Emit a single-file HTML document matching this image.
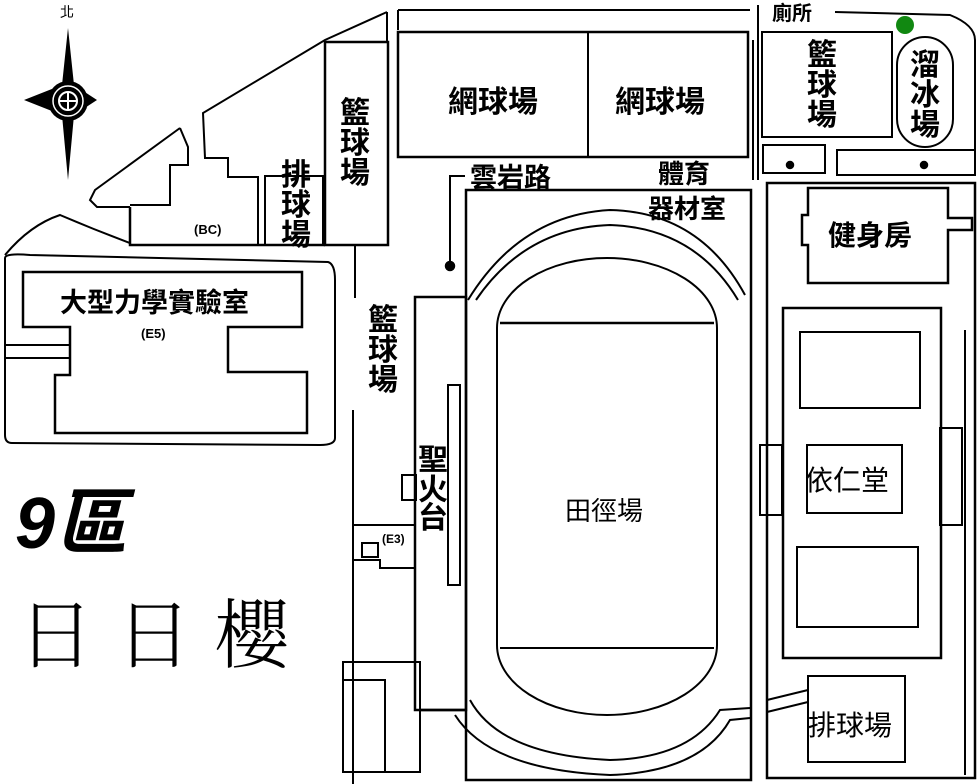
<!DOCTYPE html>
<html><head><meta charset="utf-8"><style>
html,body{margin:0;padding:0;background:#fff;}
svg{display:block;}
text{font-family:"Liberation Sans","Noto Sans CJK TC","WenQuanYi Zen Hei",sans-serif;fill:#000;font-weight:bold;}
text.n{font-weight:normal;}
text.t{font-weight:300;font-family:"Noto Serif CJK SC","Liberation Serif",serif;}
</style></head><body>
<svg width="980" height="784" viewBox="0 0 980 784" xmlns="http://www.w3.org/2000/svg">
<rect width="980" height="784" fill="#fff"/>
<g fill="none" stroke="#000" stroke-width="2.5">
<polygon points="68,28 74,85 97,100 74,115 68,180 62,115 24,100 62,85" fill="#000" stroke="none"/>
<circle cx="68" cy="101" r="20" fill="#000" stroke="none"/>
<circle cx="68" cy="101" r="15" stroke="#fff" stroke-width="1.5"/>
<circle cx="68" cy="101" r="9" stroke="#fff" stroke-width="2"/>
<line x1="59" y1="101" x2="77" y2="101" stroke="#fff" stroke-width="2"/>
<line x1="68" y1="92" x2="68" y2="110" stroke="#fff" stroke-width="2"/>
<polyline points="387,12 325,40 203,113 205,158 228,158 228,177 258,177 258,245" stroke-width="2"/>
<polyline points="180,128 188,147 188,165 170,165 170,205 130,205" stroke-width="2"/>
<polyline points="180,128 95,190 90,200 97,207 130,207" stroke-width="2"/>
<polyline points="130,207 130,245 325,245" stroke-width="2.5"/>
<rect x="265" y="176" width="58" height="69" stroke-width="2"/>
<rect x="325" y="42" width="63" height="203"/>
<polyline points="387,12 387,42" stroke-width="2"/>
<line x1="355" y1="245" x2="355" y2="298" stroke-width="2"/>
<path d="M5,258 Q5,253 30,255 L328,262 Q335,264 335,280 L335,438 Q335,445 320,445 L12,443 Q5,443 5,435 Z" stroke-width="2"/>
<polygon points="23,272 302,272 302,327 228,327 228,372 307,372 307,433 55,433 55,375 70,375 70,327 23,327"/>
<line x1="5" y1="345" x2="70" y2="345" stroke-width="2"/>
<line x1="5" y1="358" x2="70" y2="358" stroke-width="2"/>
<path d="M5,255 Q30,225 60,215 Q95,230 130,243" stroke-width="2"/>
<line x1="353" y1="410" x2="353" y2="784" stroke-width="2"/>
<rect x="415" y="297" width="51" height="413"/>
<rect x="448" y="385" width="12" height="200" stroke-width="2"/>
<rect x="402" y="475" width="14" height="25" stroke-width="2"/>
<rect x="362" y="543" width="16" height="14" stroke-width="2"/>
<polyline points="353,525 415,525" stroke-width="2"/>
<polyline points="353,560 380,560 380,568 415,568" stroke-width="2"/>
<rect x="343" y="662" width="77" height="110" stroke-width="2"/>
<rect x="343" y="680" width="42" height="92" stroke-width="2"/>
<line x1="420" y1="710" x2="466" y2="710"/>
<polyline points="450,265 450,176 465,176" stroke-width="2"/>
<circle cx="450" cy="266" r="4" fill="#000"/>
<line x1="398" y1="10" x2="750" y2="10" stroke-width="2"/>
<line x1="398" y1="10" x2="398" y2="30" stroke-width="2"/>
<rect x="398" y="32" width="350" height="125"/>
<line x1="588" y1="32" x2="588" y2="157" stroke-width="2"/>
<rect x="466" y="190" width="285" height="590"/>
<rect x="497" y="258" width="220" height="457" rx="110" ry="70" stroke-width="2"/>
<line x1="500" y1="323" x2="714" y2="323"/>
<line x1="500" y1="648" x2="714" y2="648" stroke-width="2"/>
<path d="M468,300 Q520,215 610,210 Q700,212 745,295" stroke-width="2"/>
<path d="M476,300 Q525,228 610,225 Q695,228 738,300" stroke-width="2"/>
<path d="M470,700 Q500,755 610,760 Q690,758 720,710 L750,708" stroke-width="2"/>
<path d="M455,715 Q490,770 610,775 Q700,772 730,720 L750,718" stroke-width="2"/>
<line x1="753" y1="40" x2="753" y2="180" stroke-width="2"/>
<line x1="758" y1="5" x2="758" y2="180" stroke-width="2"/>
<rect x="762" y="32" width="130" height="105" stroke-width="2"/>
<rect x="897" y="37" width="56" height="110" rx="28" ry="28" stroke-width="2"/>
<path d="M835,12 L950,15 Q975,25 975,40 L975,160" stroke-width="2"/>
<rect x="763" y="145" width="62" height="28" stroke-width="2"/>
<rect x="837" y="150" width="138" height="25" stroke-width="2"/>
<circle cx="790" cy="165" r="3" fill="#000"/>
<circle cx="924" cy="165" r="3" fill="#000"/>
<rect x="767" y="183" width="208" height="595"/>
<polygon points="808,188 948,188 948,218 972,218 972,230 948,230 948,283 808,283 808,245 802,245 802,215 808,215" stroke-width="2.5"/>
<rect x="783" y="308" width="158" height="350" stroke-width="2.5"/>
<rect x="800" y="332" width="120" height="76" stroke-width="2"/>
<rect x="807" y="445" width="95" height="68" stroke-width="2"/>
<rect x="797" y="547" width="121" height="80" stroke-width="2"/>
<rect x="808" y="676" width="97" height="86" stroke-width="2"/>
<rect x="760" y="445" width="22" height="70" stroke-width="2"/>
<rect x="940" y="428" width="22" height="97" stroke-width="2"/>
<line x1="965" y1="330" x2="965" y2="775" stroke-width="2"/>
<path d="M767,700 L808,690 M767,712 L808,702" stroke-width="2"/>
</g>
<circle cx="905" cy="25" r="9" fill="#118811"/>
<text x="60" y="17" font-size="14" class="n">北</text>
<text x="60" y="312" font-size="27">大型力學實驗室</text>
<text x="141" y="338" font-size="13">(E5)</text>
<text x="194" y="234" font-size="13">(BC)</text>
<text x="382" y="543" font-size="12">(E3)</text>
<g font-size="30">
<text x="340" y="123">籃</text><text x="340" y="153">球</text><text x="340" y="183">場</text>
<text x="281" y="185">排</text><text x="281" y="215">球</text><text x="281" y="245">場</text>
<text x="368" y="330">籃</text><text x="368" y="360">球</text><text x="368" y="390">場</text>
<text x="418" y="470">聖</text><text x="418" y="500">火</text><text x="418" y="528">台</text>
<text x="807" y="65">籃</text><text x="807" y="95">球</text><text x="807" y="125">場</text>
<text x="910" y="75">溜</text><text x="910" y="105">冰</text><text x="910" y="135">場</text>
</g>
<text x="448" y="112" font-size="30">網球場</text>
<text x="615" y="112" font-size="30">網球場</text>
<text x="470" y="187" font-size="27">雲岩路</text>
<text x="658" y="183" font-size="26">體育</text>
<text x="648" y="218" font-size="26">器材室</text>
<text x="772" y="20" font-size="20">廁所</text>
<text x="828" y="245" font-size="28">健身房</text>
<text x="805" y="490" font-size="28" class="n">依仁堂</text>
<text x="565" y="520" font-size="26" class="n">田徑場</text>
<text x="808" y="735" font-size="28" class="n">排球場</text>
<text x="15" y="548" font-size="72" font-style="italic">9區</text>
<text x="18" y="662" font-size="76" class="t" style="letter-spacing:22px">日日櫻</text>
</svg>
</body></html>
